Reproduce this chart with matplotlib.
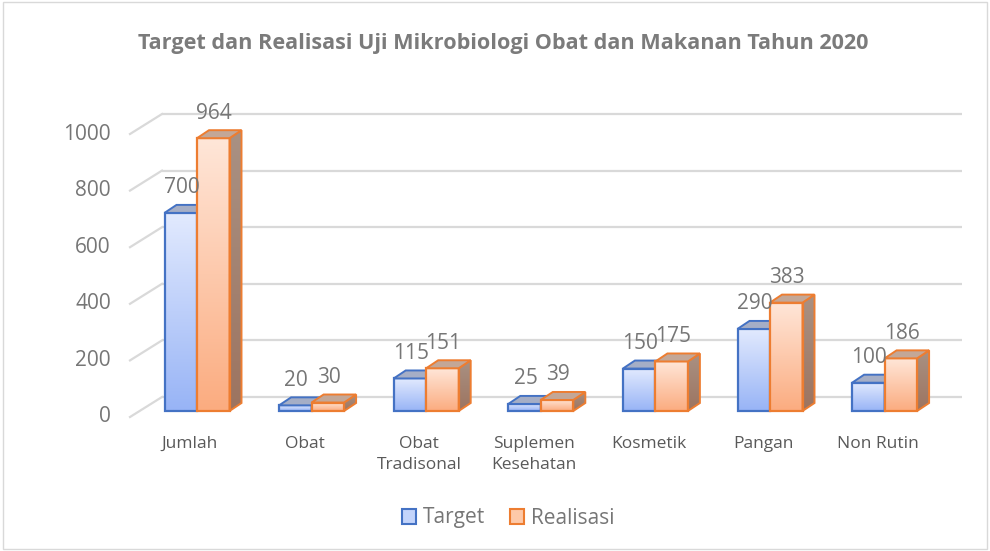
import numpy as np
import matplotlib.pyplot as plt
from matplotlib.colors import to_rgb
from matplotlib.patches import Polygon, Patch, Rectangle

categories = ['Jumlah', 'Obat', 'Obat\nTradisonal', 'Suplemen\nKesehatan',
              'Kosmetik', 'Pangan', 'Non Rutin']
target = [700, 20, 115, 25, 150, 290, 100]
realisasi = [964, 30, 151, 39, 175, 383, 186]
yticks = [0, 200, 400, 600, 800, 1000]

plt.rcParams['font.family'] = ['Open Sans', 'DejaVu Sans']
TXT = '#767676'

# pixel scales (figure is 990x551 at dpi 100)
PX_X = 114.6    # px per category
PX_Y = 0.283    # px per unit value
X0, Y0 = 197, 411   # pixel of category 0 centre / floor


def dx(px):
    return px / PX_X


def dy(px):
    return px / PX_Y


def vgrad(c_top, c_bot, n=64):
    a, b = np.array(to_rgb(c_top)), np.array(to_rgb(c_bot))
    g = np.linspace(0, 1, n).reshape(-1, 1, 1)
    return a + (b - a) * g


fig = plt.figure(figsize=(9.9, 5.51), dpi=100)
left, right, top, bottom = 100, 970, 80, 430
ax = fig.add_axes([left / 990, (551 - bottom) / 551,
                   (right - left) / 990, (bottom - top) / 551])
xlim = ((left - X0) / PX_X, (right - X0) / PX_X)
ylim = ((Y0 - bottom) / PX_Y, (Y0 - top) / PX_Y)
ax.axis('off')

# back wall gridlines + left wall diagonals
wall_dy = dy(14)
for v in yticks:
    ax.plot([dx(162 - X0), xlim[1] - dx(8)], [v + wall_dy, v + wall_dy],
            color='#d9d9d9', lw=1.6, zorder=1, solid_capstyle='butt')
    ax.plot([dx(130 - X0), dx(162 - X0)], [v - dy(6), v + wall_dy],
            color='#d9d9d9', lw=1.6, zorder=1)
    ax.text(dx(111 - X0), v - dy(6), str(v), ha='right', va='center',
            fontsize=15, color=TXT)

x = np.arange(len(categories))
w = dx(32.5)
ddx, ddy = dx(12), dy(8)

series = [
    (target, -w, '#4472c4', ('#e2eafe', '#98b4f6'), '#a5aec6', ('#a2abc2', '#8e9ab8')),
    (realisasi, 0, '#ed7d31', ('#ffe6d8', '#fbac80'), '#c3a797', ('#a99183', '#9d7460')),
]

for k, (vals, off, ec, grad, topc, sidec) in enumerate(series):
    z = 3 + k * 3
    bars = ax.bar(x + off, vals, width=w, align='edge', facecolor='none',
                  edgecolor=ec, linewidth=1.6, zorder=z + 1)
    for b, v in zip(bars, vals):
        x0, x1 = b.get_x(), b.get_x() + b.get_width()
        im = ax.imshow(vgrad(*grad), extent=(x0, x1, 0, v), origin='upper',
                       aspect='auto', zorder=z, interpolation='bilinear')
        im.set_clip_path(b)
        # side face
        side = Polygon([(x1, 0), (x1 + ddx, ddy), (x1 + ddx, v + ddy), (x1, v)],
                       closed=True, facecolor='none', edgecolor=ec, lw=1.4, zorder=z + 1)
        ax.add_patch(side)
        sim = ax.imshow(vgrad(*sidec), extent=(x1, x1 + ddx, 0, v + ddy), origin='upper',
                        aspect='auto', zorder=z, interpolation='bilinear')
        sim.set_clip_path(side)
        # top face
        ax.add_patch(Polygon([(x0, v), (x1, v), (x1 + ddx, v + ddy), (x0 + ddx, v + ddy)],
                             closed=True, facecolor=topc, edgecolor=ec, lw=1.4, zorder=z + 1))
        ax.text((x0 + x1) / 2 + dx(1), v + dy(25), str(v), ha='center', va='center',
                fontsize=15, color=TXT, zorder=10)

for i, c in enumerate(categories):
    ax.text(i - dx(7), -dy(25), c, ha='center', va='top', fontsize=12.5,
            color='#595959', linespacing=1.45)

ax.set_xlim(xlim)
ax.set_ylim(ylim)

fig.text(503 / 990, 1 - 44 / 551,
         'Target dan Realisasi Uji Mikrobiologi Obat dan Makanan Tahun 2020',
         ha='center', va='center', fontsize=15.6, fontweight='bold', color='#7b7b7b')

handles = [Patch(facecolor='#c3d4fb', edgecolor='#4472c4', lw=1.5, label='Target'),
           Patch(facecolor='#fdc9a9', edgecolor='#ed7d31', lw=1.5, label='Realisasi')]
fig.legend(handles=handles, loc='center', bbox_to_anchor=(508 / 990, 1 - 518 / 551),
           ncol=2, frameon=False, fontsize=15, labelcolor=TXT,
           handlelength=0.7, handleheight=0.7, handletextpad=0.3, columnspacing=1.2)

fig.patches.append(Rectangle((0.003, 0.004), 0.994, 0.993, transform=fig.transFigure,
                             fill=False, edgecolor='#d9d9d9', lw=1))

fig.savefig('out.png', dpi=100)
